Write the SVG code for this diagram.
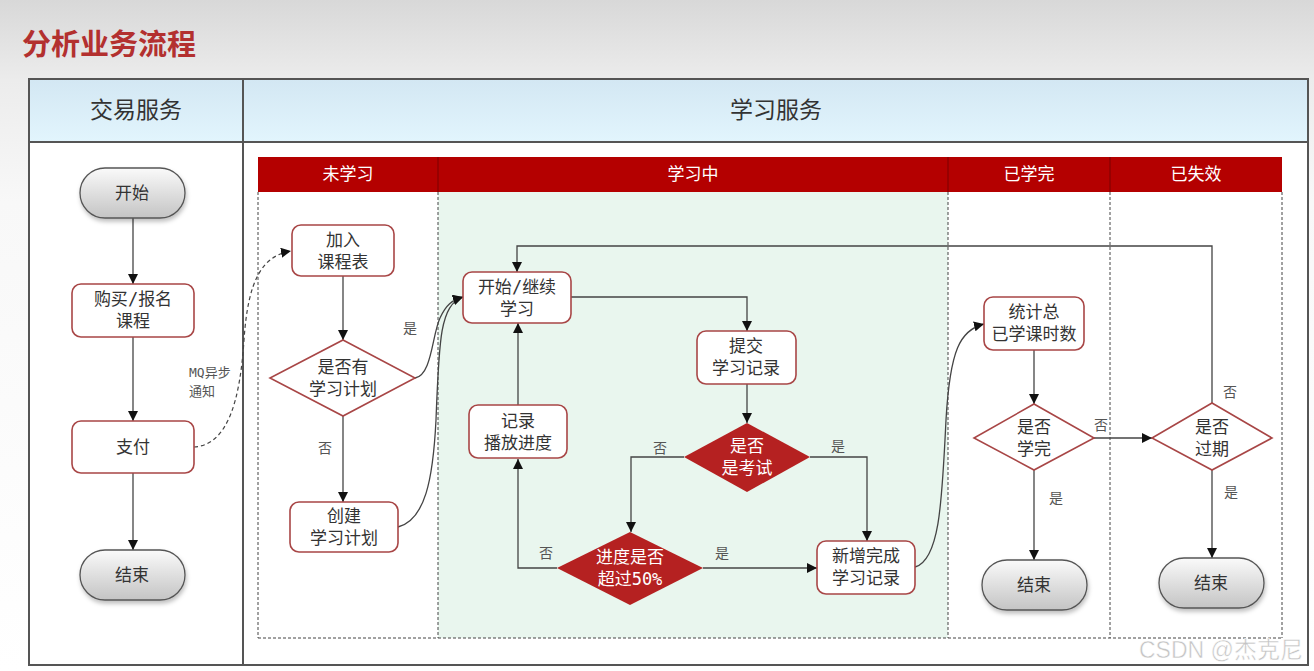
<svg xmlns="http://www.w3.org/2000/svg" width="1314" height="671" viewBox="0 0 1314 671">
<defs>
<linearGradient id="bg" x1="0" y1="0" x2="0" y2="1">
<stop offset="0" stop-color="#d8d8d8"/>
<stop offset="0.12" stop-color="#ececec"/>
<stop offset="0.3" stop-color="#f8f8f8"/>
<stop offset="1" stop-color="#ffffff"/>
</linearGradient>
<linearGradient id="hdr" x1="0" y1="0" x2="0" y2="1">
<stop offset="0" stop-color="#d3e7f3"/>
<stop offset="1" stop-color="#e2f5fd"/>
</linearGradient>
<linearGradient id="pill" x1="0" y1="0" x2="0" y2="1">
<stop offset="0" stop-color="#fafafa"/>
<stop offset="1" stop-color="#c4c4c4"/>
</linearGradient>
<filter id="sh" x="-20%" y="-20%" width="140%" height="150%">
<feDropShadow dx="1" dy="3" stdDeviation="2" flood-color="#000" flood-opacity="0.25"/>
</filter>
<marker id="ah" viewBox="0 0 10 10" refX="10" refY="5" markerWidth="10" markerHeight="10" markerUnits="userSpaceOnUse" orient="auto">
<path d="M0,0 L10,5 L0,10 z" fill="#111"/>
</marker>
<style>
.t{font-family:"Liberation Sans","Noto Sans CJK SC",sans-serif;fill:#333;text-anchor:middle;dominant-baseline:central}
.box{fill:#fff;stroke:#a84646;stroke-width:1.6}
.dia{fill:#fff;stroke:#a84646;stroke-width:1.6}
.rdia{fill:#b52121;stroke:none}
.pl{fill:url(#pill);stroke:#555;stroke-width:1.3;filter:url(#sh)}
.n{font-size:17px}
.w{fill:#fff}
.lb{font-size:14px;fill:#555}
.m{font-family:"DejaVu Sans Mono",monospace}
.c{fill:none;stroke:#444;stroke-width:1.3}
.dl{fill:none;stroke:#444;stroke-width:1;stroke-dasharray:3,2}
.rh{fill:#b40000}
.rt{font-family:"Liberation Sans","Noto Sans CJK SC",sans-serif;font-size:17px;fill:#fff;text-anchor:middle;dominant-baseline:central}
</style>
</defs>
<rect x="0" y="0" width="1314" height="671" fill="url(#bg)"/>
<text x="22" y="42" font-family="Noto Sans CJK SC, sans-serif" font-size="29" font-weight="bold" fill="#b3302f" dominant-baseline="central">分析业务流程</text>

<g id="table">
<rect x="29" y="79" width="1279" height="586" fill="#fff" stroke="#555" stroke-width="2"/>
<rect x="29" y="79" width="1279" height="63" fill="url(#hdr)" stroke="#555" stroke-width="2"/>
<line x1="243" y1="79" x2="243" y2="665" stroke="#555" stroke-width="2"/>
<text class="t" x="136" y="110" font-size="23">交易服务</text>
<text class="t" x="776" y="110" font-size="23">学习服务</text>
</g>

<g id="lanes">
<rect x="438" y="192" width="510" height="446" fill="#e9f6ee"/>
<rect class="rh" x="258" y="157" width="1024" height="35"/>
<g stroke="#7a0000" stroke-width="1">
<line x1="438" y1="157" x2="438" y2="192"/>
<line x1="948" y1="157" x2="948" y2="192"/>
<line x1="1110" y1="157" x2="1110" y2="192"/>
</g>
<text class="rt" x="348" y="174">未学习</text>
<text class="rt" x="693" y="174">学习中</text>
<text class="rt" x="1029" y="174">已学完</text>
<text class="rt" x="1196" y="174">已失效</text>
<g class="dl">
<line x1="258" y1="192" x2="258" y2="638"/>
<line x1="438" y1="192" x2="438" y2="638"/>
<line x1="948" y1="192" x2="948" y2="638"/>
<line x1="1110" y1="192" x2="1110" y2="638"/>
<line x1="1282" y1="192" x2="1282" y2="638"/>
<line x1="258" y1="638" x2="1282" y2="638"/>
</g>
</g>

<g id="connectors">
<path class="c" d="M133,218 V284" marker-end="url(#ah)"/>
<path class="c" d="M133,337 V421" marker-end="url(#ah)"/>
<path class="c" d="M133,473 V550" marker-end="url(#ah)"/>
<path class="dl" style="stroke-dasharray:4,3;stroke-width:1.2" d="M194,447 C228,445 240,400 244,340 C248,280 262,256 291,251" marker-end="url(#ah)"/>
<path class="c" d="M343,276 V340" marker-end="url(#ah)"/>
<path class="c" d="M343,416 V502" marker-end="url(#ah)"/>
<path class="c" d="M415,378 C432,375 432,335 440,318 C446,305 452,300 463,297" marker-end="url(#ah)"/>
<path class="c" d="M398,527 C425,520 433,480 436,420 C439,340 440,305 463,297" marker-end="url(#ah)"/>
<path class="c" d="M571,297 H747 V331" marker-end="url(#ah)"/>
<path class="c" d="M747,384 V423" marker-end="url(#ah)"/>
<path class="c" d="M684,457 H631 V532" marker-end="url(#ah)"/>
<path class="c" d="M810,457 H867 V541" marker-end="url(#ah)"/>
<path class="c" d="M703,568 H817" marker-end="url(#ah)"/>
<path class="c" d="M557,568 H518 V459" marker-end="url(#ah)"/>
<path class="c" d="M518,405 V323" marker-end="url(#ah)"/>
<path class="c" d="M1212,403 V246 H517 V272" marker-end="url(#ah)"/>
<path class="c" d="M915,567 C940,560 942,500 946,420 C950,350 960,330 984,324" marker-end="url(#ah)"/>
<path class="c" d="M1034,350 V404" marker-end="url(#ah)"/>
<path class="c" d="M1034,470 V560" marker-end="url(#ah)"/>
<path class="c" d="M1094,438 H1152" marker-end="url(#ah)"/>
<path class="c" d="M1212,470 V558" marker-end="url(#ah)"/>
<text class="t" x="189" y="372" style="text-anchor:start;font-size:13px;fill:#555;font-family:'DejaVu Sans Mono','Noto Sans CJK SC',monospace">MQ异步<tspan x="189" dy="19">通知</tspan></text>
<text class="t lb" x="410" y="328">是</text>
<text class="t lb" x="325" y="448">否</text>
<text class="t lb" x="660" y="448">否</text>
<text class="t lb" x="838" y="446">是</text>
<text class="t lb" x="546" y="553">否</text>
<text class="t lb" x="722" y="553">是</text>
<text class="t lb" x="1101" y="425">否</text>
<text class="t lb" x="1056" y="498">是</text>
<text class="t lb" x="1230" y="392">否</text>
<text class="t lb" x="1231" y="492">是</text>
</g>

<g id="n-start">
<rect class="pl" x="80" y="168" width="105" height="50" rx="25"/>
<text class="t n" x="132" y="193">开始</text>
</g>
<g id="n-buy">
<rect class="box" x="72" y="284" width="122" height="53" rx="9"/>
<text class="t n" x="133" y="299">购买<tspan class="m">/</tspan>报名<tspan x="133" dy="22">课程</tspan></text>
</g>
<g id="n-pay">
<rect class="box" x="72" y="421" width="122" height="52" rx="9"/>
<text class="t n" x="133" y="447">支付</text>
</g>
<g id="n-end1">
<rect class="pl" x="80" y="550" width="105" height="50" rx="25"/>
<text class="t n" x="132" y="575">结束</text>
</g>
<g id="n-join">
<rect class="box" x="292" y="225" width="102" height="51" rx="9"/>
<text class="t n" x="343" y="240">加入<tspan x="343" dy="22">课程表</tspan></text>
</g>
<g id="n-hasplan">
<polygon class="dia" points="343,340 415,378 343,416 270,378"/>
<text class="t n" x="343" y="367">是否有<tspan x="343" dy="22">学习计划</tspan></text>
</g>
<g id="n-create">
<rect class="box" x="290" y="502" width="108" height="50" rx="9"/>
<text class="t n" x="344" y="516">创建<tspan x="344" dy="22">学习计划</tspan></text>
</g>
<g id="n-study">
<rect class="box" x="463" y="272" width="108" height="51" rx="9"/>
<text class="t n" x="517" y="287">开始<tspan class="m">/</tspan>继续<tspan x="517" dy="22">学习</tspan></text>
</g>
<g id="n-submit">
<rect class="box" x="697" y="331" width="99" height="53" rx="9"/>
<text class="t n" x="746" y="346">提交<tspan x="746" dy="22">学习记录</tspan></text>
</g>
<g id="n-record">
<rect class="box" x="469" y="405" width="98" height="53" rx="9"/>
<text class="t n" x="518" y="421">记录<tspan x="518" dy="22">播放进度</tspan></text>
</g>
<g id="n-exam">
<polygon class="rdia" points="747,423 810,457 747,492 684,457"/>
<text class="t n w" x="747" y="446">是否<tspan x="747" dy="22">是考试</tspan></text>
</g>
<g id="n-progress">
<polygon class="rdia" points="630,532 703,568 630,605 557,568"/>
<text class="t n w" x="630" y="557">进度是否<tspan x="630" dy="22">超过</tspan><tspan class="m">50%</tspan></text>
</g>
<g id="n-newrec">
<rect class="box" x="817" y="541" width="98" height="53" rx="9"/>
<text class="t n" x="866" y="556">新增完成<tspan x="866" dy="22">学习记录</tspan></text>
</g>
<g id="n-stat">
<rect class="box" x="984" y="297" width="100" height="53" rx="9"/>
<text class="t n" x="1034" y="312">统计总<tspan x="1034" dy="22">已学课时数</tspan></text>
</g>
<g id="n-done">
<polygon class="dia" points="1034,404 1094,438 1034,470 974,438"/>
<text class="t n" x="1034" y="427">是否<tspan x="1034" dy="22">学完</tspan></text>
</g>
<g id="n-end2">
<rect class="pl" x="982" y="560" width="105" height="50" rx="25"/>
<text class="t n" x="1034" y="585">结束</text>
</g>
<g id="n-expired">
<polygon class="dia" points="1212,403 1272,438 1212,470 1152,438"/>
<text class="t n" x="1212" y="427">是否<tspan x="1212" dy="22">过期</tspan></text>
</g>
<g id="n-end3">
<rect class="pl" x="1159" y="558" width="105" height="50" rx="25"/>
<text class="t n" x="1211" y="583">结束</text>
</g>
<text x="1139" y="650" font-family="Liberation Sans, Noto Sans CJK SC, sans-serif" font-size="23" fill="#c4c4c4" stroke="#fff" stroke-width="0.5" dominant-baseline="central">CSDN @杰克尼</text>
</svg>
